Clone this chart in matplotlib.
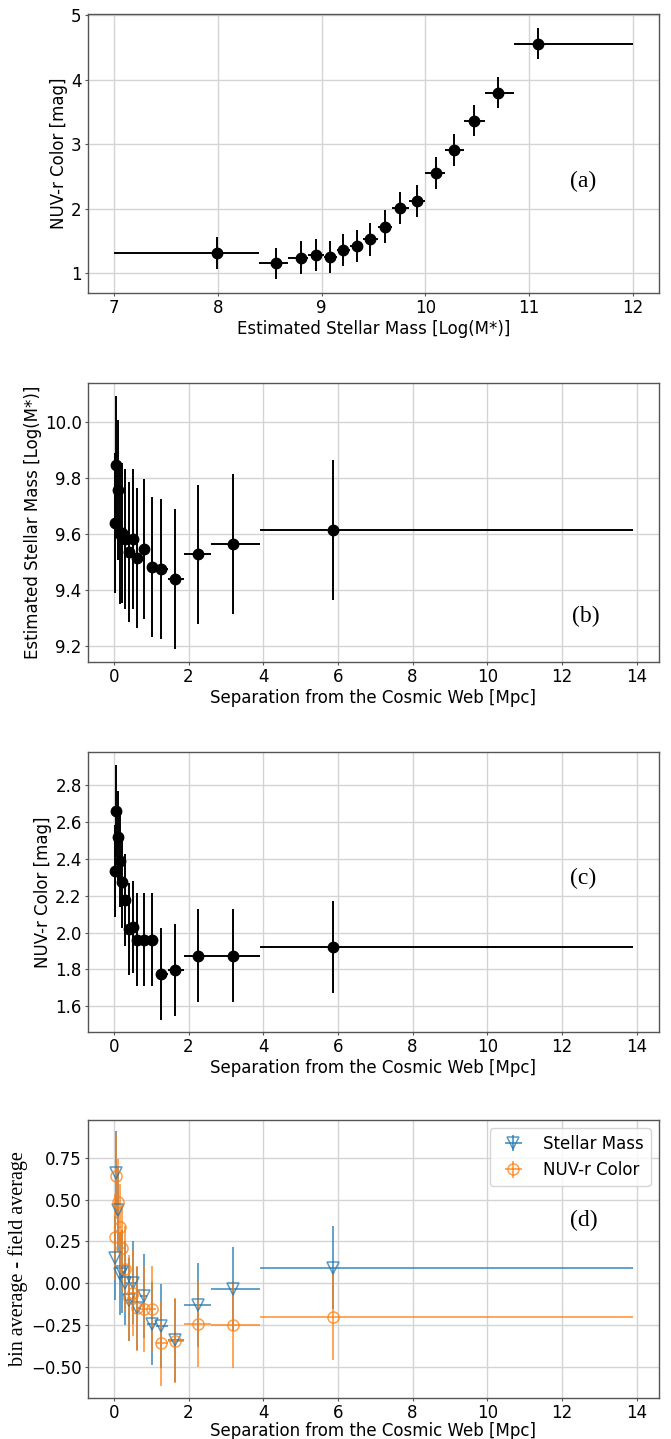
import numpy as np
import matplotlib.pyplot as plt

# %% binned averages (read per bin)

# (a) NUV-r colour in bins of stellar mass
mass_edges = [7.0, 8.40, 8.68, 8.87, 9.02, 9.15, 9.27, 9.40, 9.54, 9.68,
              9.84, 10.00, 10.19, 10.37, 10.57, 10.85, 12.0]
mass_mid = [7.99, 8.56, 8.80, 8.95, 9.08, 9.21, 9.34, 9.47, 9.61, 9.76,
            9.92, 10.10, 10.28, 10.47, 10.70, 11.09]
color_by_mass = [1.31, 1.15, 1.24, 1.28, 1.25, 1.36, 1.42, 1.52, 1.72, 2.01,
                 2.12, 2.55, 2.91, 3.36, 3.80, 4.56]
color_by_mass_err = [0.25, 0.24, 0.25, 0.25, 0.25, 0.25, 0.25, 0.25, 0.25,
                     0.25, 0.25, 0.25, 0.25, 0.24, 0.24, 0.245]

# (b)-(d) bins of separation from the cosmic web
sep_edges = [0.0, 0.04, 0.07, 0.13, 0.19, 0.26, 0.34, 0.46, 0.58, 0.70,
             0.90, 1.12, 1.44, 1.87, 2.61, 3.90, 13.90]
sep_mid = [0.02, 0.05, 0.10, 0.16, 0.23, 0.29, 0.40, 0.52, 0.63, 0.80,
           1.01, 1.26, 1.65, 2.24, 3.20, 5.88]

mass_by_sep = [9.637, 9.844, 9.755, 9.600, 9.604, 9.582, 9.536, 9.582,
               9.514, 9.546, 9.480, 9.474, 9.439, 9.526, 9.565, 9.615]
mass_by_sep_err = [0.25] * 16

color_by_sep = [2.335, 2.661, 2.519, 2.387, 2.275, 2.176, 2.018, 2.031,
                1.962, 1.962, 1.962, 1.777, 1.795, 1.875, 1.875, 1.921]
color_by_sep_err = [0.25] * 16

mass_diff = [0.151, 0.657, 0.438, 0.058, 0.070, 0.002, -0.097, 0.004,
             -0.150, -0.074, -0.241, -0.256, -0.341, -0.130, -0.033, 0.094]
mass_diff_err = [0.25] * 16
color_diff = [0.276, 0.641, 0.488, 0.335, 0.210, 0.085, -0.088, -0.058,
              -0.150, -0.153, -0.153, -0.358, -0.342, -0.246, -0.250, -0.202]
color_diff_err = [0.255] * 16

# y ranges of the four panels
ylims = [(0.69, 5.02), (9.142, 10.139), (1.46, 2.979), (-0.685, 0.975)]


def bin_xerr(mid, edges):
    mid = np.asarray(mid)
    edges = np.asarray(edges)
    return np.vstack((mid - edges[:-1], edges[1:] - mid))


mass_xerr = bin_xerr(mass_mid, mass_edges)
sep_xerr = bin_xerr(sep_mid, sep_edges)

#%% style

plt.rcParams['font.family'] = 'DejaVu Sans'
plt.rcParams['font.size'] = 12
plt.rcParams['axes.edgecolor'] = '#555555'
plt.rcParams['axes.linewidth'] = 1.0
plt.rcParams['axes.labelpad'] = 2
plt.rcParams['grid.color'] = '#d4d4d4'
plt.rcParams['grid.linewidth'] = 1.0

serif = 'Liberation Serif'
left, width = 0.131, 0.851
rows = [(0.7964, 0.1939), (0.5400, 0.1939), (0.2828, 0.1946), (0.0285, 0.1932)]

fig = plt.figure(figsize=(6.71, 14.39), dpi=100)
axes = [fig.add_axes([left, y0, width, h]) for y0, h in rows]

for ax, lim in zip(axes, ylims):
    ax.grid(True)
    ax.set_axisbelow(True)
    ax.set_ylim(lim)
    ax.tick_params(length=2, width=0.8, color='#555555', pad=2.5, labelsize=12)

black = dict(fmt='o', color='k', ms=7.5, elinewidth=1.4, capsize=0)

#%% (a) colour vs mass
ax = axes[0]
ax.errorbar(mass_mid, color_by_mass, yerr=color_by_mass_err, xerr=mass_xerr, **black)
ax.set_xlabel('Estimated Stellar Mass [Log(M*)]')
ax.set_ylabel('NUV-r Color [mag]')
ax.text(0.867, 0.40, '(a)', transform=ax.transAxes, family=serif,
        fontsize=17, ha='center', va='center')

#%% (b) mass vs separation
ax = axes[1]
ax.errorbar(sep_mid, mass_by_sep, yerr=mass_by_sep_err, xerr=sep_xerr, **black)
ax.set_xlabel('Separation from the Cosmic Web [Mpc]')
ax.set_ylabel('Estimated Stellar Mass [Log(M*)]')
ax.text(0.872, 0.164, '(b)', transform=ax.transAxes, family=serif,
        fontsize=17, ha='center', va='center')

#%% (c) colour vs separation
ax = axes[2]
ax.errorbar(sep_mid, color_by_sep, yerr=color_by_sep_err, xerr=sep_xerr, **black)
ax.set_xlabel('Separation from the Cosmic Web [Mpc]')
ax.set_ylabel('NUV-r Color [mag]')
ax.text(0.867, 0.549, '(c)', transform=ax.transAxes, family=serif,
        fontsize=17, ha='center', va='center')

#%% (d) offsets from the field average
ax = axes[3]
ax.errorbar(sep_mid, mass_diff, yerr=mass_diff_err, xerr=sep_xerr, fmt='v',
            color='tab:blue', mfc='none', ms=8, mew=1.1, elinewidth=1.3,
            alpha=0.75, label='Stellar Mass')
ax.errorbar(sep_mid, color_diff, yerr=color_diff_err, xerr=sep_xerr, fmt='o',
            color='tab:orange', mfc='none', ms=8, mew=1.1, elinewidth=1.3,
            alpha=0.75, label='NUV-r Color')
ax.set_xlabel('Separation from the Cosmic Web [Mpc]', labelpad=0)
ax.set_ylabel('bin average - field average', family=serif, fontsize=14.5)
ax.legend(loc='upper right', fontsize=12)
ax.text(0.869, 0.64, '(d)', transform=ax.transAxes, family=serif,
        fontsize=17, ha='center', va='center')

fig.savefig('out.png', dpi=100)
